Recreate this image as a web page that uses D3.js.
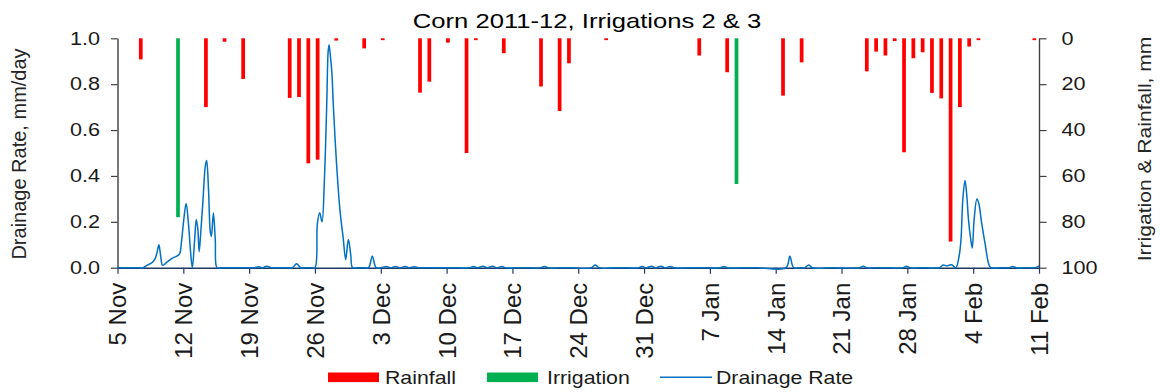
<!DOCTYPE html>
<html>
<head>
<meta charset="utf-8">
<script src="https://cdn.jsdelivr.net/npm/d3@7"></script>
<style>
  html, body { margin: 0; padding: 0; background: #fff; }
  svg { display: block; font-family: "Liberation Sans", Arial, sans-serif; }
</style>
</head>
<body>
<svg id="chart" width="1160" height="392"></svg>
<script>
// ---- Data -------------------------------------------------------------
const chartTitle = "Corn 2011-12, Irrigations 2 & 3";
const startDate = "2011-11-05";
const endDate = "2012-02-11";

// Daily rainfall, mm
const rainDates = [
  "2011-11-07", "2011-11-14", "2011-11-16", "2011-11-18", "2011-11-23", "2011-11-24",
  "2011-11-25", "2011-11-26", "2011-11-28", "2011-12-01", "2011-12-03", "2011-12-07",
  "2011-12-08", "2011-12-10", "2011-12-12", "2011-12-13", "2011-12-16", "2011-12-20",
  "2011-12-22", "2011-12-23", "2011-12-27", "2012-01-06", "2012-01-09", "2012-01-15",
  "2012-01-17", "2012-01-24", "2012-01-25", "2012-01-26", "2012-01-27", "2012-01-28",
  "2012-01-29", "2012-01-30", "2012-01-31", "2012-02-01", "2012-02-02", "2012-02-03",
  "2012-02-04", "2012-02-05", "2012-02-11"
];
const rainMm = [
  9.2, 30, 1.5, 17.7, 26, 25.6,
  54.5, 52.9, 1, 4.4, 0.8, 23.7,
  18.9, 1.9, 50, 0.8, 6.5, 21,
  31.7, 10.9, 0.8, 7.5, 14.8, 25,
  10.5, 14.4, 5.8, 7.5, 1.2, 49.7,
  8.7, 6.1, 23.8, 26.2, 88.6, 30,
  3.6, 0.8, 0.8
];

// Irrigation events, mm
const irrigationDates = ["2011-11-11", "2012-01-10"];
const irrigationMm = [78, 63.5];

// Drainage rate (mm/day) against days elapsed since 5 Nov 2011
const drainDay = [
  0, 1, 2, 2.7, 3.2, 3.6, 3.95, 4.2, 4.4, 4.58, 4.8, 5.2, 5.6, 6.0, 6.3, 6.6, 6.8,
  7.05, 7.3, 7.55, 7.78, 7.96, 8.2, 8.38, 8.55, 8.68, 8.85, 9.1, 9.33, 9.48, 9.68,
  9.86, 9.98, 10.2, 10.4, 10.58, 11, 12, 13, 14, 14.6, 15.0, 15.4, 15.9, 16.4, 17,
  18, 18.6, 19.05, 19.5, 20, 20.6, 21.0, 21.25, 21.5, 21.75, 22.0, 22.25, 22.4, 22.5,
  22.65, 22.8, 22.95, 23.3, 23.66, 24.0, 24.27, 24.55, 24.8, 25.0, 25.5, 26.2, 26.7,
  27.1, 27.5, 28, 28.6, 29.0, 29.6, 30.0, 30.6, 31.0, 31.6, 32.0, 33, 35, 37.5, 37.9,
  38.3, 38.9, 39.3, 39.9, 40.3, 40.9, 41.3, 43, 45.0, 45.4, 45.8, 48, 50.4, 50.8,
  51.2, 53, 55.4, 55.8, 56.2, 56.8, 57.2, 57.8, 58.2, 58.8, 59.2, 62, 64.1, 64.5,
  64.9, 68, 71.1, 71.5, 71.9, 72.5, 73.1, 73.5, 73.9, 76, 78.9, 79.3, 79.7, 81, 83.5,
  83.9, 84.3, 86, 87.4, 87.8, 88.2, 88.7, 89.15, 89.5, 89.7, 89.9, 90.13, 90.3, 90.5,
  90.7, 90.9, 91.1, 91.4, 91.6, 91.9, 92.25, 92.7, 92.9, 94, 94.8, 95.2, 95.6, 97,
  97.6, 98
];
const drainRate = [
  0, 0, 0, 0, 0.012, 0.02, 0.035, 0.065, 0.10, 0.055, 0.01, 0.022, 0.035, 0.045, 0.05, 0.06, 0.11,
  0.21, 0.28, 0.19, 0.065, 0.0, 0.12, 0.21, 0.165, 0.07, 0.15, 0.30, 0.44, 0.467, 0.34,
  0.16, 0.136, 0.238, 0.12, 0.0, 0, 0, 0, 0, 0, 0.004, 0, 0.006, 0, 0,
  0, 0, 0.017, 0, 0, 0, 0.0, 0.19, 0.24, 0.20, 0.38, 0.71, 0.94, 0.972,
  0.92, 0.85, 0.71, 0.45, 0.25, 0.13, 0.036, 0.123, 0.058, 0, 0, 0, 0,
  0.05, 0, 0, 0.005, 0, 0.005, 0, 0.005, 0, 0.004, 0, 0, 0, 0, 0.005,
  0, 0.006, 0, 0.006, 0, 0.005, 0, 0, 0, 0.005, 0, 0, 0, 0.012,
  0, 0, 0, 0.005, 0, 0.006, 0, 0.006, 0, 0.005, 0, 0, 0, 0.005,
  0, 0, 0, 0.05, 0, 0, 0, 0.012, 0, 0, 0, 0.006, 0, 0, 0,
  0.006, 0, 0, 0, 0.012, 0.008, 0.013, 0, 0.05, 0.12, 0.30, 0.38, 0.325, 0.21,
  0.136, 0.086, 0.21, 0.30, 0.28, 0.195, 0.108, 0.01, 0, 0, 0, 0.005, 0, 0,
  0, 0.008
];

const rateTicks = [0, 0.2, 0.4, 0.6, 0.8, 1.0];
const depthTicks = [0, 20, 40, 60, 80, 100];
const dateTickStepDays = 7;

const legendItems = [
  { label: "Rainfall", kind: "bar", color: "#FF0000" },
  { label: "Irrigation", kind: "bar", color: "#00B050" },
  { label: "Drainage Rate", kind: "line", color: "#0070C0" }
];

// ---- Layout -----------------------------------------------------------
const plot = { left: 117.5, right: 1039, top: 38.3, bottom: 267.7 };
const axisGrey = "#404040";
const dateAxisColor = "#1F3864";
const textColor = "#1a1a1a";

// Horizontal labels in this chart are set a little wider than the plain face.
function widen(sel, factor) {
  sel.each(function () {
    const len = this.getComputedTextLength();
    d3.select(this).attr("textLength", len * factor).attr("lengthAdjust", "spacingAndGlyphs");
  });
}

const parse = d3.utcParse("%Y-%m-%d");
const key = d3.utcFormat("%Y-%m-%d");
const t0 = parse(startDate), t1 = parse(endDate);
const days = d3.utcDay.range(t0, d3.utcDay.offset(t1, 1));

const svg = d3.select("#chart");

// ---- Scales -----------------------------------------------------------
const xTime = d3.scaleUtc().domain([t0, t1]).range([plot.left, plot.right]);
const xBand = d3.scaleBand()
  .domain(days.map(key))
  .range([plot.left, plot.right])
  .paddingInner(0.6)
  .paddingOuter(0.3);
const yRate = d3.scaleLinear().domain([0, 1]).range([plot.bottom, plot.top]);
const yDepth = d3.scaleLinear().domain([0, 100]).range([plot.top, plot.bottom]);

// ---- Bars hanging from the top (right axis, inverted) -----------------
const rain = rainDates.map((d, i) => ({ date: d, mm: rainMm[i] }));
const irrigation = irrigationDates.map((d, i) => ({ date: d, mm: irrigationMm[i] }));

function drawBars(data, color) {
  svg.append("g")
    .selectAll("rect")
    .data(data)
    .join("rect")
    .attr("x", d => xBand(d.date))
    .attr("width", xBand.bandwidth())
    .attr("y", yDepth(0))
    .attr("height", d => yDepth(d.mm) - yDepth(0))
    .attr("fill", color);
}
drawBars(rain, "#FF0000");
drawBars(irrigation, "#00B050");

// ---- Axes -------------------------------------------------------------
function styleAxis(g, color, fontSize) {
  g.attr("font-family", null).attr("font-size", null);
  g.selectAll("path.domain").attr("stroke", color).attr("stroke-width", 1.4);
  g.selectAll(".tick line").attr("stroke", color).attr("stroke-width", 1.2);
  g.selectAll(".tick text").attr("fill", textColor).style("font-size", fontSize + "px");
}

const leftAxis = svg.append("g")
  .attr("transform", `translate(${plot.left},0)`)
  .call(d3.axisLeft(yRate).tickValues(rateTicks).tickFormat(d3.format(".1f"))
    .tickSize(6.5).tickSizeOuter(0).tickPadding(11));
styleAxis(leftAxis, axisGrey, 18);
widen(leftAxis.selectAll(".tick text"), 1.2);

const rightAxis = svg.append("g")
  .attr("transform", `translate(${plot.right},0)`)
  .call(d3.axisRight(yDepth).tickValues(depthTicks).tickFormat(d3.format("d"))
    .tickSize(7.5).tickSizeOuter(0).tickPadding(15));
styleAxis(rightAxis, axisGrey, 18);
widen(rightAxis.selectAll(".tick text"), 1.2);

const dateTicks = days.filter((d, i) => i % dateTickStepDays === 0);
const bottomAxis = svg.append("g")
  .attr("transform", `translate(0,${plot.bottom})`)
  .call(d3.axisBottom(xTime).tickValues(dateTicks).tickFormat(d3.utcFormat("%-d %b"))
    .tickSize(6).tickSizeOuter(0));
styleAxis(bottomAxis, dateAxisColor, 24);
bottomAxis.selectAll(".tick text")
  .attr("transform", "rotate(-90)")
  .attr("text-anchor", "end")
  .attr("x", -15)
  .attr("y", 0)
  .attr("dy", "0.35em");

// ---- Drainage rate line ----------------------------------------------
const drain = drainDay.map((d, i) => ({ t: new Date(t0.getTime() + d * 864e5), v: drainRate[i] }));
const line = d3.line()
  .x(d => xTime(d.t))
  .y(d => yRate(d.v))
  .curve(d3.curveCatmullRom.alpha(0.5));

svg.append("path")
  .datum(drain)
  .attr("fill", "none")
  .attr("stroke", "#0070C0")
  .attr("stroke-width", 1.5)
  .attr("stroke-linejoin", "round")
  .attr("d", line);

// ---- Titles -----------------------------------------------------------
const title = svg.append("text")
  .attr("x", 587).attr("y", 28)
  .attr("text-anchor", "middle")
  .attr("fill", "#000")
  .style("font-size", "21px")
  .text(chartTitle);
widen(title, 1.22);

svg.append("text")
  .attr("transform", "translate(26,154) rotate(-90)")
  .attr("text-anchor", "middle")
  .attr("fill", "#262626")
  .style("font-size", "20px")
  .text("Drainage Rate, mm/day");

const rightTitle = svg.append("text")
  .attr("transform", "translate(1151,149) rotate(-90)")
  .attr("text-anchor", "middle")
  .attr("fill", "#262626")
  .style("font-size", "18px")
  .text("Irrigation & Rainfall, mm");
widen(rightTitle, 1.17);

// ---- Legend -----------------------------------------------------------
const legendX = [328, 487, 660];
const legendY = 377.3;
const legend = svg.append("g");
legendItems.forEach((item, i) => {
  const g = legend.append("g").attr("transform", `translate(${legendX[i]},${legendY})`);
  if (item.kind === "bar") {
    g.append("rect").attr("x", 0).attr("y", -4.8).attr("width", 51).attr("height", 9.6).attr("fill", item.color);
  } else {
    g.append("line").attr("x1", 0).attr("x2", 52).attr("y1", 0).attr("y2", 0)
      .attr("stroke", item.color).attr("stroke-width", 1.5);
  }
  const t = g.append("text")
    .attr("x", item.kind === "bar" ? (i === 0 ? 57 : 60) : 56)
    .attr("y", 6.2)
    .attr("fill", textColor)
    .style("font-size", "18.5px")
    .text(item.label);
  widen(t, 1.15);
});
</script>
</body>
</html>
